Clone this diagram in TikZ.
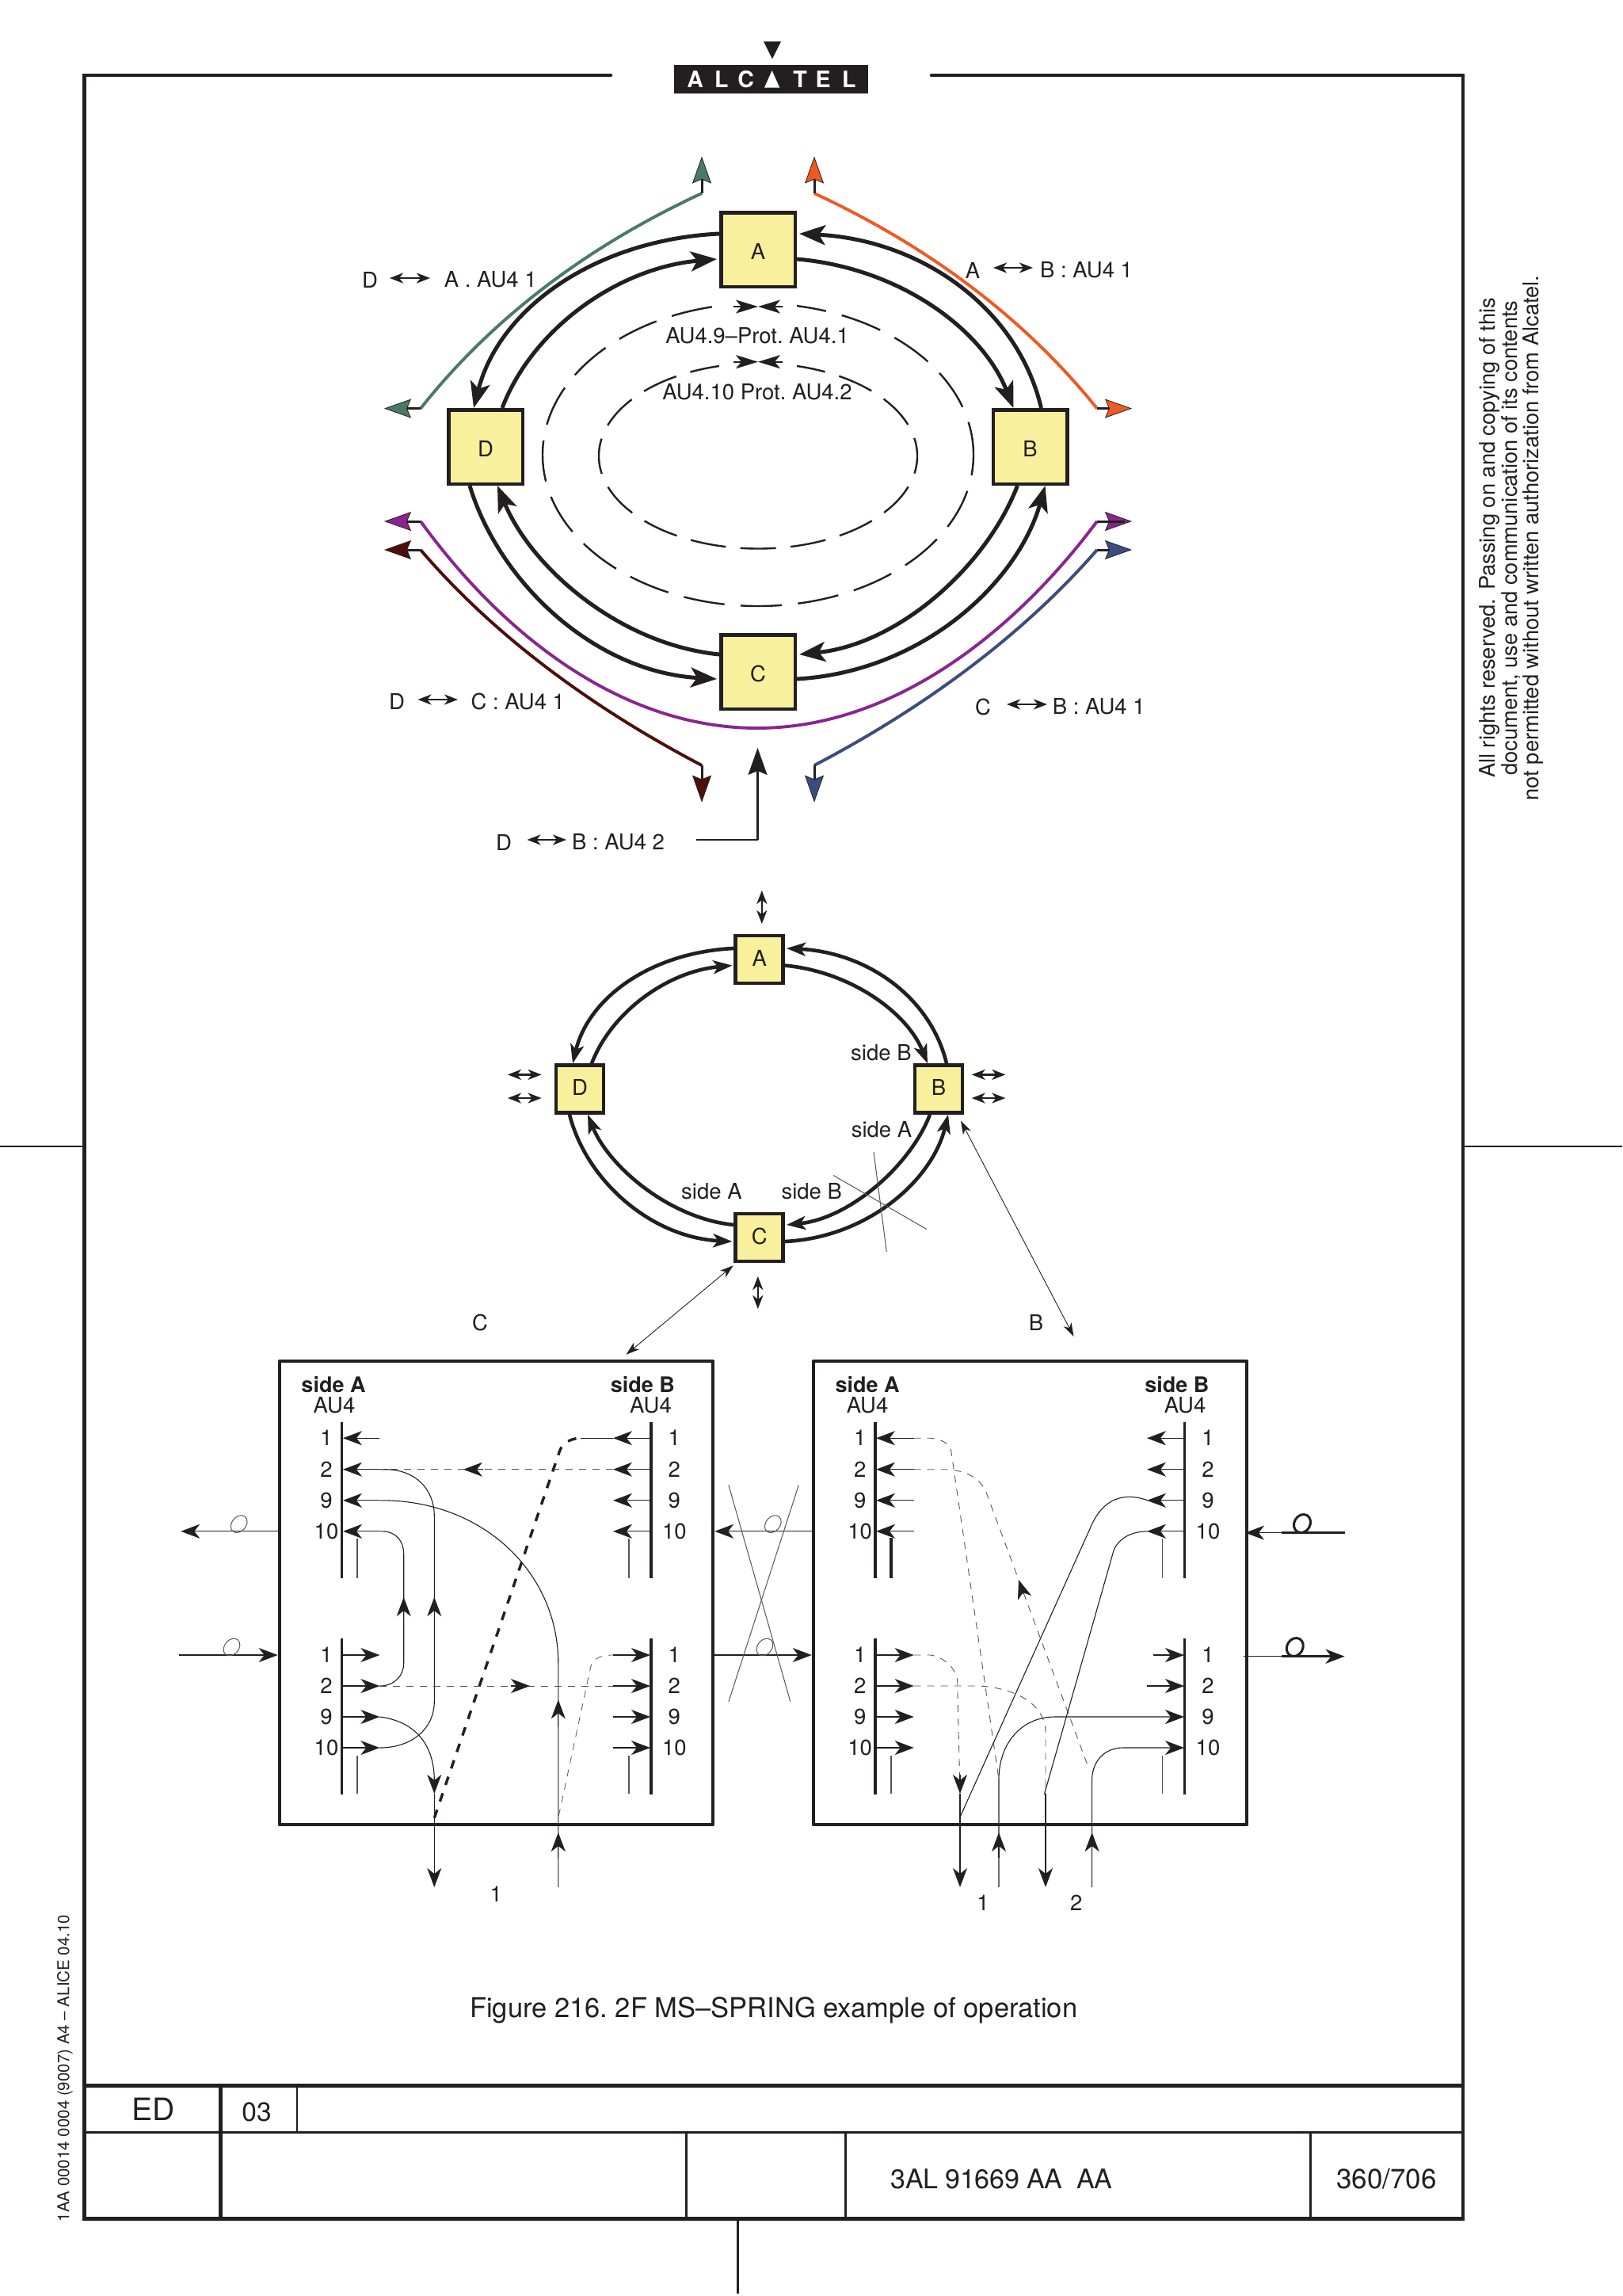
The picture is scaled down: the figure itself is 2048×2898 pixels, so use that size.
\documentclass[tikz,border=0pt]{standalone}
\usepackage{fontspec}
\setmainfont{TeX Gyre Heros}
\usetikzlibrary{arrows.meta,calc}
\AtBeginDocument{\frenchspacing}
\definecolor{nodey}{HTML}{F8F09C}
\definecolor{cgreen}{HTML}{4A7A64}
\definecolor{corange}{HTML}{EE5A24}
\definecolor{cpurple}{HTML}{8A2590}
\definecolor{cdred}{HTML}{4E0F0C}
\definecolor{cnavy}{HTML}{3D4C7E}
\definecolor{ink}{HTML}{231F20}
\definecolor{grayl}{HTML}{555555}
\tikzset{
  x=1pt,y=-1pt,
  tbig/.tip={Stealth[length=33pt,width=25pt,inset=8pt]},
  tmid/.tip={Stealth[length=24pt,width=17pt,inset=6pt]},
  tsig/.tip={Stealth[length=24pt,width=18pt,inset=7pt]},
  frameln/.style={draw=ink,line width=4.5pt,line cap=round},
  midln/.style={draw=ink,line width=3.3pt},
  finln/.style={draw=ink,line width=2.4pt},
  bignode/.style={draw=ink,fill=nodey,line width=4.5pt,minimum size=93.5pt,inner sep=0pt,text height=24pt,text depth=0pt,font=\fontsize{27.5}{32}\selectfont,text=ink},
  smallnode/.style={draw=ink,fill=nodey,line width=4.5pt,minimum size=60pt,inner sep=0pt,text depth=4pt,font=\fontsize{27.5}{32}\selectfont,text=ink},
  boxnode/.style={draw=ink,line width=4.5pt,inner sep=0pt,line join=round},
  ringa/.style={draw=ink,line width=5pt},
  ringb/.style={draw=ink,line width=4.6pt},
  lbl/.style={font=\fontsize{27.5}{32}\selectfont,text=ink,inner sep=0pt},
  lbll/.style={lbl,anchor=west},
  boldlbl/.style={font=\fontsize{27}{32}\selectfont\bfseries,text=ink,inner sep=0pt},
  bar/.style={draw=ink,line width=3.5pt},
  thinv/.style={draw=grayl,line width=1.3pt},
  sig/.style={draw=ink,line width=1.1pt},
  sigd/.style={draw=grayl,line width=.9pt,dash pattern=on 9pt off 8pt},
  dbl/.style={draw=ink,line width=2.6pt,{Stealth[length=17pt,width=13pt,inset=5pt]}-{Stealth[length=17pt,width=13pt,inset=5pt]}},
  colline/.style={line width=3.9pt},
  colarr/.style={draw=ink,line width=3pt,-{Stealth[length=34pt,width=24pt,inset=5pt,line width=.8pt,fill=#1]}},
  loopm/.style={draw=grayl,line width=1pt},
  loopk/.style={draw=ink,line width=3pt},
}
\begin{document}
\begin{tikzpicture}
\useasboundingbox (0,0) rectangle (2048,2898);
% frame
\coordinate (FL) at (106.5,95); \coordinate (FR) at (1847,95);
\coordinate (FBL) at (106.5,2800.5); \coordinate (FBR) at (1847,2800.5);
\draw[frameln] (771,95) -- (FL) -- (FBL) -- (FBR) -- (FR) -- (1176,95);
\draw[finln] (0,1447) -- (FL |- 0,1447);
\draw[finln] (FR |- 0,1447) -- (2048,1447);
\draw[finln] (931.4,2800) -- (931.4,2895);
% title block
\draw[frameln] (106.5,2632.3) -- (1847,2632.3);
\draw[midln] (106.5,2691.7) -- (1847,2691.7);
\draw[draw=ink,line width=5pt] (278.7,2632.3) -- (278.7,2800.5);
\draw[finln] (375,2632.3) -- (375,2691.7);
\draw[midln] (866.5,2691.7) -- (866.5,2800.5);
\draw[midln] (1067.7,2691.7) -- (1067.7,2800.5);
\draw[finln] (1654.4,2691.7) -- (1654.4,2800.5);
\node[lbl,font=\fontsize{39}{44}\selectfont] (ted) at (194,2662.5) {ED};
\node[lbl,font=\fontsize{33.5}{40}\selectfont] (t03) at (324,2665.5) {03};
\node[lbl,font=\fontsize{34}{42}\selectfont\addfontfeature{LetterSpace=-1},anchor=west] (tref) at (1124.6,2750) {3AL 91669 AA\ \ AA};
\node[lbl,font=\fontsize{35}{42}\selectfont] (tpg) at (1750.5,2750) {360/706};
\node[lbl,font=\fontsize{34.5}{40}\selectfont,anchor=base] (cap) at (976.7,2546) {Figure 216. 2F MS–SPRING example of operation};
\node[lbl,font=\fontsize{20.5}{24}\selectfont,rotate=90] (alice) at (82,2610.5) {1AA 00014 0004 (9007) A4 – ALICE 04.10};
\node[lbl,font=\fontsize{27.3}{27.5}\selectfont,rotate=90,align=center] (rights) at (1908,679) {All rights reserved.\hspace{.4em}Passing on and copying of this\\document, use and communication of its contents\\not permitted without written authorization from Alcatel.};
% logo
\fill[ink] (850.7,82.3) rectangle (1095.7,117.7);
\fill[ink] (964,52.3) -- (986,52.3) -- (975,74.3) -- cycle;
\fill[white] (965,110.7) -- (984.3,110.7) -- (974.6,89) -- cycle;
\foreach \lx/\lt in {877.7/A,910.7/L,941.7/C,1010/T,1039/E,1071.7/L}
  \node[lbl,text=white,font=\fontsize{28.5}{32}\selectfont\bfseries] at (\lx,100) {\lt};
% big ring nodes
\node[bignode] (A) at (957,315) {A};
\node[bignode] (B) at (1300.5,564) {B};
\node[bignode] (C) at (957,848) {C};
\node[bignode] (D) at (613,564) {D};
% dashed ellipses
\draw[ink,line width=2.4pt,dash pattern=on 52pt off 20.5pt,dash phase=26pt] (957,574) ellipse (272 and 191);
\draw[ink,line width=2.4pt,dash pattern=on 45pt off 18.5pt,dash phase=22.5pt] (957,575.5) ellipse (201 and 117);
\fill[white] (908,372) rectangle (1006,396);
\fill[white] (908,446) rectangle (1006,470);
% ring arcs
\draw[ringa,-{tbig}] ([yshift=20pt]A.west) .. controls (750,303) and (630,390) .. ([xshift=-15pt]D.north);
\draw[ringa,-{tbig}] ([xshift=21pt]D.north) .. controls (672,415) and (780,338) .. ([yshift=-12pt,xshift=-3pt]A.west);
\draw[ringa,-{tbig}] ([yshift=-12pt]A.east) .. controls (1135,338) and (1240,415) .. ([xshift=-21pt]B.north);
\draw[ringa,-{tbig}] ([xshift=14pt]B.north) .. controls (1285,390) and (1165,303) .. ([yshift=20pt,xshift=3pt]A.east);
\draw[ringa,-{tbig}] ([xshift=-16pt]B.south) .. controls (1245,715) and (1135,813) .. ([yshift=22pt,xshift=3pt]C.east);
\draw[ringa,-{tbig}] ([yshift=-9pt]C.east) .. controls (1165,848) and (1285,735) .. ([xshift=19pt]B.south);
\draw[ringa,-{tbig}] ([yshift=22pt]C.west) .. controls (780,813) and (670,715) .. ([xshift=15pt]D.south);
\draw[ringa,-{tbig}] ([xshift=-20pt]D.south) .. controls (630,735) and (750,848) .. ([yshift=-9pt,xshift=-3pt]C.west);
% little facing arrows
\coordinate (m1) at (957,387); \coordinate (m2) at (957,456.7);
\foreach \m in {m1,m2}{
  \draw[draw=ink,line width=2.4pt,-{Stealth[length=28pt,width=17pt,inset=7pt]}] ([xshift=-31pt]\m) -- (\m);
  \draw[draw=ink,line width=2.4pt,-{Stealth[length=28pt,width=17pt,inset=7pt]}] ([xshift=31pt]\m) -- (\m);
}
\node[lbl] (t9) at (956,424) {AU4.9–Prot. AU4.1};
\node[lbl] (t10) at (956,495) {AU4.10 Prot. AU4.2};
% coloured tributaries
\draw[cgreen,colline] (886,244) .. controls (800,284) and (650,365) .. (531,515.6);
\draw[colarr=cgreen] (531,515.6) -- (485,515.6);
\draw[colarr=cgreen] (886,244) -- (886,197.5);
\draw[corange,colline] (1028,244) .. controls (1114,284) and (1264,365) .. (1385,515.6);
\draw[colarr=corange] (1385,515.6) -- (1429,515.6);
\draw[colarr=corange] (1028,244) -- (1028,197.5);
\draw[cpurple,colline] (531,658) .. controls (630,795) and (780,919) .. (956,919) .. controls (1130,919) and (1283,795) .. (1385,658);
\draw[colarr=cpurple] (531,658) -- (485,658);
\draw[colarr=cpurple] (1385,658) -- (1429,658);
\draw[draw=ink,line width=3pt] (1385,658) -- (1420,658);
\draw[cdred,colline] (531,694) .. controls (630,810) and (760,900) .. (886,966);
\draw[colarr=cdred] (531,694) -- (485,694);
\draw[colarr=cdred] (886,966) -- (886,1012.6);
\draw[cnavy,colline] (1385,694) .. controls (1284,810) and (1154,900) .. (1028,966);
\draw[colarr=cnavy] (1385,694) -- (1429,694);
\draw[colarr=cnavy] (1028,966) -- (1028,1012.6);
\draw[colarr=ink] (956.5,1060) -- (956.5,944);
\draw[sig] (879,1060) -- (956.5,1060);
% big ring labels
\node[lbl] (la1) at (467,353) {D};
\draw[dbl] (492,351) -- (543,351);
\node[lbll] (la2) at (560.7,353) {A . AU4 1};
\node[lbl] (lb1) at (1228,341) {A};
\draw[dbl] (1254,338) -- (1304,338);
\node[lbll] (lb2) at (1313,341) {B : AU4 1};
\node[lbl] (lc1) at (501,885) {D};
\draw[dbl] (527.5,883) -- (578,883);
\node[lbll] (lc2) at (594.5,885) {C : AU4 1};
\node[lbl] (ld1) at (1241,892) {C};
\draw[dbl] (1271,889) -- (1322,889);
\node[lbll] (ld2) at (1328.6,892) {B : AU4 1};
\node[lbl] (le1) at (636,1063) {D};
\draw[dbl] (665.5,1060) -- (715,1060);
\node[lbll] (le2) at (722,1063) {B : AU4 2};
% small ring
\node[smallnode] (a2) at (958.7,1211) {A};
\node[smallnode] (b2) at (1185,1374.5) {B};
\node[smallnode] (c2) at (958.7,1562) {C};
\node[smallnode] (d2) at (732,1374.5) {D};
\draw[ringb,-{tmid}] ([yshift=14pt]a2.west) .. controls (822,1202) and (743,1259) .. ([xshift=-9pt]d2.north);
\draw[ringb,-{tmid}] ([xshift=15pt]d2.north) .. controls (772,1277) and (843,1226) .. ([yshift=-7.6pt,xshift=-2pt]a2.west);
\draw[ringb,-{tmid}] ([yshift=-7.6pt]a2.east) .. controls (1072,1226) and (1145,1277) .. ([xshift=-14pt]b2.north);
\draw[ringb,-{tmid}] ([xshift=10pt]b2.north) .. controls (1175,1259) and (1095,1202) .. ([yshift=14pt,xshift=2pt]a2.east);
\draw[ringb,-{tmid}] ([xshift=-11pt]b2.south) .. controls (1149,1472) and (1072,1538) .. ([yshift=16pt,xshift=2pt]c2.east);
\draw[ringb,-{tmid}] ([yshift=-5pt]c2.east) .. controls (1095,1562) and (1177,1490) .. ([xshift=12pt]b2.south);
\draw[ringb,-{tmid}] ([yshift=16pt]c2.west) .. controls (845,1538) and (768,1472) .. ([xshift=10pt]d2.south);
\draw[ringb,-{tmid}] ([xshift=-13pt]d2.south) .. controls (740,1490) and (822,1562) .. ([yshift=-5pt,xshift=-2pt]c2.west);
\draw[dbl] (961.8,1124) -- (961.8,1166);
\draw[dbl] (956.8,1611) -- (956.8,1652);
\draw[dbl] (641,1356.4) -- (683.6,1356.4);
\draw[dbl] (641,1386) -- (683.6,1386);
\draw[dbl] (1226.7,1356.4) -- (1269.4,1356.4);
\draw[dbl] (1226.7,1386) -- (1269.4,1386);
\node[lbl] (sb1) at (1112.4,1328.5) {side B};
\node[lbl] (sa1) at (1113,1426) {side A};
\node[lbl] (sa2) at (898.4,1504) {side A};
\node[lbl] (sb2) at (1024.7,1504) {side B};
\draw[thinv,line width=1pt] (1103,1454) -- (1119.3,1580);
\draw[thinv,line width=1pt] (1052,1483.5) -- (1170,1551.6);
\node[lbl] (lc) at (606,1669) {C};
\node[lbl] (lb) at (1308,1669) {B};
% boxes
\node[boxnode,minimum width=547pt,minimum height=585pt] (BL) at (626.5,2010.5) {};
\node[boxnode,minimum width=547pt,minimum height=585pt] (BR) at (1300.5,2010.5) {};
\draw[sig,line width=.9pt,{Stealth[length=17pt,width=11pt,inset=5pt]}-{Stealth[length=17pt,width=11pt,inset=5pt]}] ([xshift=-33pt,yshift=-3pt]c2.south) -- ([xshift=164pt,yshift=6pt]BL.north);
\draw[sig,line width=.9pt,{Stealth[length=17pt,width=11pt,inset=5pt]}-{Stealth[length=17pt,width=11pt,inset=5pt]}] ([xshift=28pt,yshift=-8pt]b2.south) -- ([xshift=55pt,yshift=29pt]BR.north);
% headings
\node[boldlbl] (h1) at (421,1748) {side A};
\node[lbl] (h2) at (422,1774) {AU4};
\node[boldlbl] (h3) at (811.4,1748) {side B};
\node[lbl] (h4) at (821.5,1774) {AU4};
\node[boldlbl] (h5) at (1095,1748) {side A};
\node[lbl] (h6) at (1095,1774) {AU4};
\node[boldlbl] (h7) at (1485.8,1748) {side B};
\node[lbl] (h8) at (1496,1774) {AU4};
% bars and number labels
\foreach \bx/\nx/\vx in {431.7/412/451, 822/851.3/794, 1105/1085.7/1125, 1495.7/1525/1467.5}{
  \draw[bar] (\bx,1795) -- (\bx,1991.5);
  \draw[bar] (\bx,2068) -- (\bx,2265);
  \draw[thinv] (\vx,2216) -- (\vx,2264);
  \foreach \yy/\tt in {1815.2/1,1854.7/2,1893.8/9,1932.8/10,2089/1,2128/2,2167/9,2206/10}
    \node[lbl] at (\nx,\yy) {\tt};
}
\draw[thinv] (451,1942.4) -- (451,1991.5);
\draw[thinv] (794,1942.4) -- (794,1991.5);
\draw[bar] (1125,1941) -- (1125,1991.5);
\draw[thinv] (1467.5,1942.4) -- (1467.5,1991.5);
% stubs, box left
\foreach \yy in {1815.2,1854.7,1893.8,1932.8}
  \draw[sig,-{tsig}] (479.4,\yy) -- (433,\yy);
\foreach \yy in {2089,2128,2167,2206}
  \draw[sig,-{tsig}] (431.7,\yy) -- (479.4,\yy);
\foreach \yy in {1815.2,1854.7,1893.8,1932.8}
  \draw[sig,-{tsig}] (822,\yy) -- (774,\yy);
\foreach \yy in {2089,2128,2167,2206}
  \draw[sig,-{tsig}] (774,\yy) -- (821,\yy);
% stubs, box right
\foreach \yy in {1815.2,1854.7,1893.8,1932.8}
  \draw[sig,-{tsig}] (1153.7,\yy) -- (1106,\yy);
\foreach \yy in {2089,2128,2167,2206}
  \draw[sig,-{tsig}] (1105,\yy) -- (1153.7,\yy);
\foreach \yy in {1815.2,1854.7,1893.8,1932.8}
  \draw[sig,-{tsig}] (1495.7,\yy) -- (1448,\yy);
\draw[sig,-{tsig}] (1456,2089) -- (1495,2089);
\draw[sig,-{tsig}] (1448,2128) -- (1495,2128);
% left box routes
\draw[sig] (479.4,1854.7) -- (486,1854.7) .. controls (525,1854.7) and (548.3,1880) .. (548.3,1913.5) -- (548.3,2147.6) .. controls (548.3,2182) and (520,2206) .. (479.4,2206);
\draw[sig,-{tsig}] (548.3,2050) -- (548.3,2016);
\draw[sig] (479.4,1932.8) -- (482,1932.8) .. controls (500,1932.8) and (509.7,1945) .. (509.7,1961.7) -- (509.7,2099.4) .. controls (509.7,2115) and (498,2128) .. (479.4,2128);
\draw[sig,-{tsig}] (509.7,2050) -- (509.7,2016);
\draw[sig] (479.4,1893.8) -- (482,1893.8) .. controls (610,1893.8) and (704.8,1985) .. (704.8,2099.4) -- (704.8,2382);
\draw[sig,-{tsig}] (704.8,2180) -- (704.8,2145.4);
\draw[sig,-{tsig}] (704.8,2345) -- (704.8,2313);
\draw[sig,-{tsig}] (479.4,2167) .. controls (520,2172) and (548.3,2198) .. (548.3,2264);
\draw[sig,-{tsig}] (548.3,2264) -- (548.3,2382);
\draw[sigd] (774,1854.7) -- (479.4,1854.7);
\draw[sig,-{tsig}] (610,1854.7) -- (585,1854.7);
\draw[sigd] (479.4,2128) -- (774,2128);
\draw[sig,-{tsig}] (645,2128) -- (669,2128);
\draw[draw=ink,line width=3.4pt,dash pattern=on 11pt off 11pt] (548.3,2294.6) -- (706.7,1831) .. controls (710,1822) and (720,1815.2) .. (733.3,1815.2);
\draw[sig,line width=1pt] (733.3,1815.2) -- (774,1815.2);
\draw[sigd,line width=.8pt] (705.3,2292) -- (745.7,2104) .. controls (748,2095) and (755,2089) .. (774,2089);
% externals
\draw[sig,-{tsig}] (BL.west |- 0,1932.8) -- (228.3,1932.8);
\draw[sig,-{tsig}] (226.4,2089) -- (BL.west |- 0,2089);
\draw[loopm,shift={(301.7,1923.6)},rotate=50] (0,0) ellipse (12 and 9);
\draw[loopm,shift={(292.5,2079)},rotate=50] (0,0) ellipse (12 and 9);
\node[lbl] (n1) at (626.3,2391) {1};
\draw[sig,-{tsig}] (BR.west |- 0,1932.8) -- (BL.east |- 0,1932.8);
\draw[sig,-{tsig}] (BL.east |- 0,2089) -- (BR.west |- 0,2089);
\draw[loopm,shift={(975.8,1923.6)},rotate=50] (0,0) ellipse (12 and 9);
\draw[loopm,shift={(965.4,2079)},rotate=50] (0,0) ellipse (12 and 9);
\draw[thinv,line width=1pt] (919.9,1874.5) -- (997.8,2147.7);
\draw[thinv,line width=1pt] (1008.3,1874.5) -- (919.9,2147.7);
% right box routes
\draw[sigd] (1153.7,1815.2) -- (1175,1815.2) .. controls (1190,1817) and (1198,1822) .. (1200.7,1831) -- (1261,2246);
\draw[sigd] (1153.7,1854.7) -- (1195,1854.7) .. controls (1220,1856) and (1238,1866) .. (1245,1883.6) -- (1373,2228);
\draw[sig,-{tsig}] (1292,2012) -- (1286,1994);
\draw[sigd] (1153.7,2089) -- (1175,2089) .. controls (1192,2092) and (1206,2105) .. (1208.6,2120) -- (1212,2264);
\draw[sig,-{tsig}] (1212,2240) -- (1212,2264);
\draw[sigd] (1153.7,2128) -- (1235,2128) .. controls (1280,2130) and (1320,2150) .. (1320,2186.7) -- (1320,2264);
\draw[sig] (1212.2,2293) -- (1376,1929.6) .. controls (1388,1900) and (1410,1880) .. (1449,1893.8);
\draw[sig] (1318.4,2264.7) -- (1406,1957) .. controls (1412,1942) and (1428,1932.8) .. (1449,1932.8);
\draw[sig,-{tsig}] (1261,2382) -- (1261,2246) .. controls (1261,2200) and (1290,2167) .. (1331.5,2167) -- (1495,2167);
\draw[sig,-{tsig}] (1261,2345) -- (1261,2313);
\draw[sig,-{tsig}] (1378.6,2382) -- (1378.6,2244) .. controls (1380,2222) and (1395,2206) .. (1417.8,2206) -- (1495,2206);
\draw[sig,-{tsig}] (1378.6,2345) -- (1378.6,2313);
\draw[sig,-{tsig}] (1212,2264) -- (1212,2382);
\draw[sig,-{tsig}] (1320,2264) -- (1320,2382);
\node[lbl] (n2) at (1241,2401.6) {1};
\node[lbl] (n3) at (1358.7,2401.6) {2};
\draw[sig,-{tsig}] (1697.6,1934.6) -- (1572,1934.6);
\draw[draw=ink,line width=3.4pt] (1617.6,1934.6) -- (1697.6,1934.6);
\draw[loopk,shift={(1644,1923)},rotate=60] (0,0) ellipse (12 and 10);
\draw[sig] (1569.5,2090.7) -- (1620,2090.7);
\draw[draw=ink,line width=3.4pt,-{tsig}] (1617.6,2090.7) -- (1697.6,2090.7);
\draw[loopk,shift={(1634.8,2079)},rotate=60] (0,0) ellipse (12 and 10);
\end{tikzpicture}
\end{document}
